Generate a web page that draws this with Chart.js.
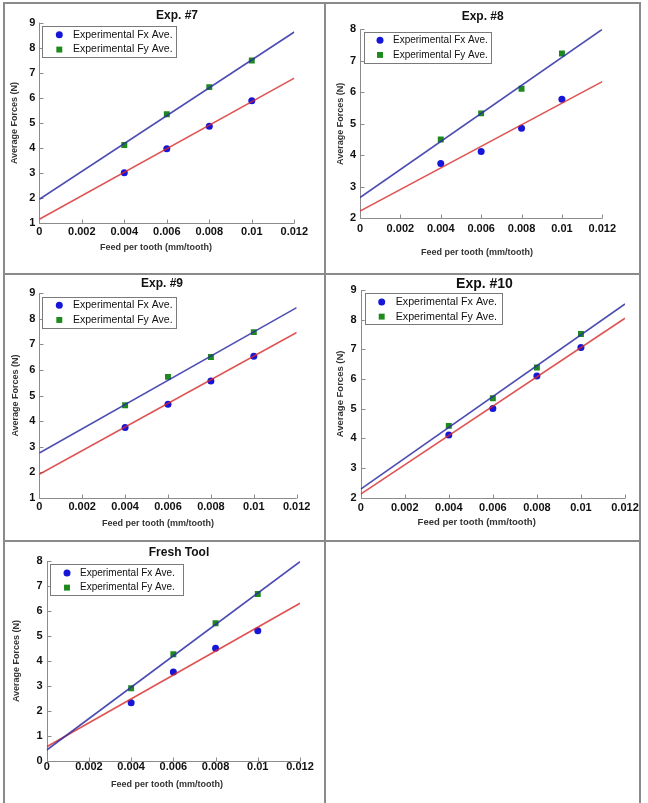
<!DOCTYPE html>
<html><head><meta charset="utf-8">
<script src="https://cdn.jsdelivr.net/npm/chart.js@4.4.0/dist/chart.umd.min.js"></script>
<style>
html,body{margin:0;padding:0;background:#fff;width:648px;height:803px;overflow:hidden;position:relative}
.ln{position:absolute;background:#8a8a8a}
canvas{position:absolute}
</style></head><body>
<div class="ln" style="left:3px;top:2px;width:2px;height:801px"></div>
<div class="ln" style="left:324px;top:2px;width:2px;height:801px"></div>
<div class="ln" style="left:639px;top:2px;width:2px;height:801px"></div>
<div class="ln" style="left:3px;top:2px;width:638px;height:2px"></div>
<div class="ln" style="left:3px;top:273px;width:638px;height:2px"></div>
<div class="ln" style="left:3px;top:540px;width:638px;height:2px"></div>
<script>
// ---------- data ----------
const xTickValues = [0, 0.002, 0.004, 0.006, 0.008, 0.010, 0.012];
const xTickLabels = ['0', '0.002', '0.004', '0.006', '0.008', '0.01', '0.012'];
const feedRate = [0.004, 0.006, 0.008, 0.010];
const fitFeed = [0, 0.012];
const seriesNames = ['Experimental Fx Ave.', 'Experimental Fy Ave.'];
const panelTitles = ['Exp. #7', 'Exp. #8', 'Exp. #9', 'Exp. #10', 'Fresh Tool'];
const xAxisTitle = 'Feed per tooth (mm/tooth)';
const yAxisTitle = 'Average Forces (N)';

const exp7Fx = [3.02, 3.97, 4.87, 5.89];
const exp7Fy = [4.12, 5.35, 6.43, 7.49];
const exp7FitFx = [1.16, 6.79];
const exp7FitFy = [1.96, 8.63];
const exp7YTicks = [1, 2, 3, 4, 5, 6, 7, 8, 9];

const exp8Fx = [3.74, 4.12, 4.86, 5.78];
const exp8Fy = [4.50, 5.33, 6.11, 7.23];
const exp8FitFx = [2.23, 6.34];
const exp8FitFy = [2.66, 8.0];
const exp8YTicks = [2, 3, 4, 5, 6, 7, 8];

const exp9Fx = [3.75, 4.66, 5.57, 6.54];
const exp9Fy = [4.62, 5.73, 6.51, 7.48];
const exp9FitFx = [1.92, 7.47];
const exp9FitFy = [2.75, 8.44];
const exp9YTicks = [1, 2, 3, 4, 5, 6, 7, 8, 9];

const exp10Fx = [4.11, 5.01, 6.10, 7.06];
const exp10Fy = [4.42, 5.35, 6.39, 7.52];
const exp10FitFx = [2.12, 8.05];
const exp10FitFy = [2.29, 8.53];
const exp10YTicks = [2, 3, 4, 5, 6, 7, 8, 9];

const freshFx = [2.33, 3.56, 4.51, 5.21];
const freshFy = [2.91, 4.27, 5.51, 6.68];
const freshFitFx = [0.57, 6.31];
const freshFitFy = [0.44, 7.97];
const freshYTicks = [0, 1, 2, 3, 4, 5, 6, 7, 8];

// ---------- styles ----------
const FONT = '"Liberation Sans", Arial, sans-serif';
const FX_COLOR = '#1616d8';
const FY_COLOR = '#1e8a1e';
const FY_LINE = 'rgba(45,45,165,0.85)';
const FX_LINE = 'rgba(215,40,40,0.8)';
const AXIS_COLOR = '#8c8c8c';

const panels = [
  {title: panelTitles[0], fx: exp7Fx, fy: exp7Fy, fitFx: exp7FitFx, fitFy: exp7FitFy, yTicks: exp7YTicks,
   cx: 5, cy: 4, cw: 319, ch: 269, area: {L: 39.3, T: 22.7, R: 294.3, B: 223.3},
   titleX: 177, titleY: 16, titleSize: 12, tickY: 232, xTitleX: 156, xTitleY: 248, yTitleX: 15, axSize: 9,
   legend: {x: 42.3, y: 26, w: 134, h: 31, mx: 17, tx: 30.7, size: 10.5}},
  {title: panelTitles[1], fx: exp8Fx, fy: exp8Fy, fitFx: exp8FitFx, fitFy: exp8FitFy, yTicks: exp8YTicks,
   cx: 326, cy: 4, cw: 322, ch: 269, area: {L: 360, T: 29.3, R: 602.3, B: 218.3},
   titleX: 482.7, titleY: 17, titleSize: 12, tickY: 229, xTitleX: 477, xTitleY: 253, yTitleX: 340.7, axSize: 9,
   legend: {x: 364, y: 31.7, w: 127, h: 30.6, mx: 16, tx: 29, size: 10}},
  {title: panelTitles[2], fx: exp9Fx, fy: exp9Fy, fitFx: exp9FitFx, fitFy: exp9FitFy, yTicks: exp9YTicks,
   cx: 5, cy: 275, cw: 319, ch: 265, area: {L: 39.3, T: 293.3, R: 296.7, B: 497.7},
   titleX: 162, titleY: 284, titleSize: 12, tickY: 507, xTitleX: 158, xTitleY: 524, yTitleX: 15.7, axSize: 9,
   legend: {x: 42.3, y: 296.7, w: 133.5, h: 30.6, mx: 17, tx: 30.7, size: 10.5}},
  {title: panelTitles[3], fx: exp10Fx, fy: exp10Fy, fitFx: exp10FitFx, fitFy: exp10FitFy, yTicks: exp10YTicks,
   cx: 326, cy: 275, cw: 322, ch: 265, area: {L: 360.7, T: 290, R: 625, B: 497.7},
   titleX: 484.5, titleY: 284, titleSize: 14, tickY: 508, xTitleX: 476.7, xTitleY: 522.7, yTitleX: 340.7, axSize: 9.5,
   legend: {x: 364.7, y: 293.3, w: 137, h: 30.7, mx: 17, tx: 31, size: 10.7}},
  {title: panelTitles[4], fx: freshFx, fy: freshFy, fitFx: freshFitFx, fitFy: freshFitFy, yTicks: freshYTicks,
   cx: 5, cy: 542, cw: 319, ch: 261, area: {L: 46.7, T: 561, R: 300, B: 761},
   titleX: 179, titleY: 553, titleSize: 12, tickY: 766.7, xTitleX: 167, xTitleY: 785, yTitleX: 16.7, axSize: 9,
   legend: {x: 50, y: 564.3, w: 133, h: 30.7, mx: 17, tx: 30, size: 10}}
];

function makePanel(p) {
  const cv = document.createElement('canvas');
  cv.width = p.cw; cv.height = p.ch;
  cv.style.left = p.cx + 'px'; cv.style.top = p.cy + 'px';
  cv.style.width = p.cw + 'px'; cv.style.height = p.ch + 'px';
  document.body.appendChild(cv);
  const l = p.area.L - p.cx, t = p.area.T - p.cy, r = p.area.R - p.cx, b = p.area.B - p.cy;
  const tickFont = {family: FONT, size: 11, weight: 'bold', lineHeight: 1};
  const axFont = {family: FONT, size: p.axSize, weight: 'bold', lineHeight: 1};
  const titleFont = {family: FONT, size: p.titleSize, weight: 'bold', lineHeight: 1};
  let savedX = null;

  const nudge = {
    id: 'nudge',
    afterLayout(chart) {
      const tb = chart.titleBlock;
      if (tb) {
        const w = tb.right - tb.left;
        const tx = p.titleX - p.cx, ty = p.titleY - p.cy;
        tb.left = tx - w / 2; tb.right = tx + w / 2;
        tb.top = ty - p.titleSize / 2; tb.bottom = tb.top + p.titleSize;
      }
    },
    beforeDraw(chart) {
      // move only the x-axis title box (tick pixels are already configured)
      const sx = chart.scales.x;
      savedX = [sx.left, sx.right];
      const sw = sx.right - sx.left;
      const xx = p.xTitleX - p.cx;
      sx.left = xx - sw / 2; sx.right = xx + sw / 2;
    },
    beforeDatasetsDraw(chart) {
      const sx = chart.scales.x;
      if (savedX) { sx.left = savedX[0]; sx.right = savedX[1]; savedX = null; }
    }
  };
  const axes = {
    id: 'axesInward',
    beforeDatasetsDraw(chart) {
      const {ctx, chartArea: a, scales: {x, y}} = chart;
      ctx.save();
      ctx.strokeStyle = AXIS_COLOR; ctx.lineWidth = 1;
      ctx.beginPath();
      const L = Math.round(a.left) + 0.5, B = Math.round(a.bottom) + 0.5;
      ctx.moveTo(L, a.top); ctx.lineTo(L, B); ctx.lineTo(a.right, B);
      x.ticks.forEach(tk => { const px = Math.round(x.getPixelForValue(tk.value)) + 0.5; ctx.moveTo(px, B); ctx.lineTo(px, B - 4); });
      y.ticks.forEach(tk => { const py = Math.round(y.getPixelForValue(tk.value)) + 0.5; ctx.moveTo(L, py); ctx.lineTo(L + 4, py); });
      ctx.stroke();
      ctx.restore();
    }
  };
  const boxLegend = {
    id: 'boxLegend',
    afterDatasetsDraw(chart) {
      const ctx = chart.ctx;
      const g = p.legend;
      const x0 = g.x - p.cx, y0 = g.y - p.cy;
      ctx.save();
      ctx.fillStyle = '#fff';
      ctx.fillRect(x0, y0, g.w, g.h);
      ctx.strokeStyle = '#7a7a7a'; ctx.lineWidth = 1;
      ctx.strokeRect(Math.round(x0) + 0.5, Math.round(y0) + 0.5, Math.round(g.w), Math.round(g.h));
      const rows = [0.28, 0.76];
      [0, 1].forEach(i => {
        const ds = chart.data.datasets[i];
        const yy = y0 + g.h * rows[i];
        const xx = x0 + g.mx;
        ctx.fillStyle = ds.backgroundColor;
        ctx.beginPath();
        if (ds.pointStyle === 'circle') {
          ctx.arc(xx, yy, ds.pointRadius, 0, Math.PI * 2);
        } else {
          const s = ds.pointRadius * Math.SQRT1_2;
          ctx.rect(xx - s, yy - s, 2 * s, 2 * s);
        }
        ctx.fill();
        ctx.fillStyle = '#111';
        ctx.font = g.size + 'px ' + FONT;
        ctx.textBaseline = 'middle';
        ctx.textAlign = 'left';
        ctx.fillText(ds.label, x0 + g.tx, yy);
      });
      ctx.restore();
    }
  };

  new Chart(cv, {
    type: 'scatter',
    data: {
      datasets: [
        {label: seriesNames[0], data: p.fx.map((v, i) => ({x: feedRate[i], y: v})), showLine: false,
         pointStyle: 'circle', pointRadius: 3.5, backgroundColor: FX_COLOR, borderWidth: 0, order: 1},
        {label: seriesNames[1], data: p.fy.map((v, i) => ({x: feedRate[i], y: v})), showLine: false,
         pointStyle: 'rect', pointRadius: 4.2, backgroundColor: FY_COLOR, borderWidth: 0, order: 1},
        {label: 'Fy fit', data: fitFeed.map((v, i) => ({x: v, y: p.fitFy[i]})), showLine: true,
         pointRadius: 0, borderColor: FY_LINE, borderWidth: 1.6, order: 0},
        {label: 'Fx fit', data: fitFeed.map((v, i) => ({x: v, y: p.fitFx[i]})), showLine: true,
         pointRadius: 0, borderColor: FX_LINE, borderWidth: 1.6, order: 0}
      ]
    },
    options: {
      responsive: false, animation: false, devicePixelRatio: 1, events: [],
      layout: {padding: {left: 0, top: t - p.titleSize, right: p.cw - r, bottom: 0}},
      plugins: {
        legend: {display: false}, tooltip: {enabled: false},
        title: {display: true, text: p.title, font: titleFont, color: '#111', padding: 0}
      },
      scales: {
        x: {
          type: 'linear', position: 'bottom', min: xTickValues[0], max: xTickValues[xTickValues.length - 1],
          afterBuildTicks: s => { s.ticks = xTickValues.map(v => ({value: v})); },
          afterFit: s => { s.height = p.ch - b; },
          grid: {display: false, drawTicks: false}, border: {display: false},
          ticks: {font: tickFont, color: '#111', padding: p.tickY - p.area.B - 5.5, autoSkip: false, maxRotation: 0, minRotation: 0,
                  callback: (v, i) => xTickLabels[i]},
          title: {display: true, text: xAxisTitle, font: axFont, color: '#333',
                  padding: {top: 0, bottom: p.ch - (p.xTitleY - p.cy) - p.axSize / 2}}
        },
        y: {
          type: 'linear', position: 'left', min: p.yTicks[0], max: p.yTicks[p.yTicks.length - 1],
          afterBuildTicks: s => { s.ticks = p.yTicks.map(v => ({value: v})); },
          afterFit: s => { s.width = l; },
          grid: {display: false, drawTicks: false}, border: {display: false},
          ticks: {font: tickFont, color: '#111', padding: 4, callback: (v, i) => String(p.yTicks[i])},
          title: {display: true, text: yAxisTitle, font: axFont, color: '#333',
                  padding: {top: (p.yTitleX - p.cx) - p.axSize / 2, bottom: 0}}
        }
      }
    },
    plugins: [nudge, axes, boxLegend]
  });
}
panels.forEach(makePanel);
</script>
</body></html>
